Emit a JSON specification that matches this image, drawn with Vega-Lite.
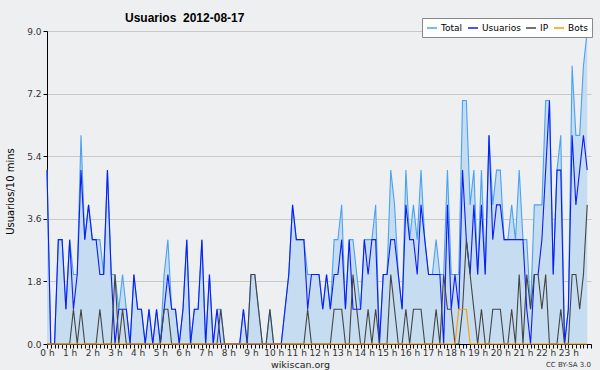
{
  "$schema": "https://vega.github.io/schema/vega-lite/v6.json",
  "autosize": {"type": "none"},
  "width": 544,
  "height": 313,
  "padding": {"left": 47, "top": 31, "right": 9, "bottom": 26},
  "background": "#eeeff1",
  "view": {"stroke": null, "fill": "#eeeff1"},
  "title": {"text": "Usuarios\u00a0 2012-08-17", "anchor": "start", "dx": 120, "dy": 13, "font": "Liberation Sans", "fontSize": 12, "fontWeight": "bold", "color": "#000000", "offset": 6},
  "datasets": {
    "serie": [
    {"m":0,"Total":5,"Usuarios":5,"IP":0,"Bots":0},{"m":10,"Total":0,"Usuarios":0,"IP":0,"Bots":0},{"m":20,"Total":0,"Usuarios":0,"IP":0,"Bots":0},{"m":30,"Total":3,"Usuarios":3,"IP":0,"Bots":0},{"m":40,"Total":3,"Usuarios":3,"IP":0,"Bots":0},{"m":50,"Total":1,"Usuarios":1,"IP":0,"Bots":0},
    {"m":60,"Total":3,"Usuarios":3,"IP":0,"Bots":0},{"m":70,"Total":2,"Usuarios":1,"IP":1,"Bots":0},{"m":80,"Total":2,"Usuarios":2,"IP":0,"Bots":0},{"m":90,"Total":6,"Usuarios":5,"IP":1,"Bots":0},{"m":100,"Total":3,"Usuarios":3,"IP":0,"Bots":0},{"m":110,"Total":4,"Usuarios":4,"IP":0,"Bots":0},
    {"m":120,"Total":3,"Usuarios":3,"IP":0,"Bots":0},{"m":130,"Total":3,"Usuarios":3,"IP":0,"Bots":0},{"m":140,"Total":3,"Usuarios":2,"IP":1,"Bots":0},{"m":150,"Total":2,"Usuarios":2,"IP":0,"Bots":0},{"m":160,"Total":5,"Usuarios":5,"IP":0,"Bots":0},{"m":170,"Total":2,"Usuarios":2,"IP":0,"Bots":0},
    {"m":180,"Total":2,"Usuarios":0,"IP":2,"Bots":0},{"m":190,"Total":1,"Usuarios":1,"IP":0,"Bots":0},{"m":200,"Total":2,"Usuarios":1,"IP":1,"Bots":0},{"m":210,"Total":1,"Usuarios":1,"IP":0,"Bots":0},{"m":220,"Total":0,"Usuarios":0,"IP":0,"Bots":0},{"m":230,"Total":2,"Usuarios":2,"IP":0,"Bots":0},
    {"m":240,"Total":1,"Usuarios":1,"IP":0,"Bots":0},{"m":250,"Total":1,"Usuarios":1,"IP":0,"Bots":0},{"m":260,"Total":0,"Usuarios":0,"IP":0,"Bots":0},{"m":270,"Total":1,"Usuarios":1,"IP":0,"Bots":0},{"m":280,"Total":0,"Usuarios":0,"IP":0,"Bots":0},{"m":290,"Total":1,"Usuarios":1,"IP":0,"Bots":0},
    {"m":300,"Total":0,"Usuarios":0,"IP":0,"Bots":0},{"m":310,"Total":2,"Usuarios":1,"IP":1,"Bots":0},{"m":320,"Total":3,"Usuarios":2,"IP":1,"Bots":0},{"m":330,"Total":1,"Usuarios":1,"IP":0,"Bots":0},{"m":340,"Total":1,"Usuarios":1,"IP":0,"Bots":0},{"m":350,"Total":0,"Usuarios":0,"IP":0,"Bots":0},
    {"m":360,"Total":1,"Usuarios":1,"IP":0,"Bots":0},{"m":370,"Total":3,"Usuarios":3,"IP":0,"Bots":0},{"m":380,"Total":0,"Usuarios":0,"IP":0,"Bots":0},{"m":390,"Total":1,"Usuarios":1,"IP":0,"Bots":0},{"m":400,"Total":1,"Usuarios":1,"IP":0,"Bots":0},{"m":410,"Total":3,"Usuarios":3,"IP":0,"Bots":0},
    {"m":420,"Total":0,"Usuarios":0,"IP":0,"Bots":0},{"m":430,"Total":2,"Usuarios":2,"IP":0,"Bots":0},{"m":440,"Total":0,"Usuarios":0,"IP":0,"Bots":0},{"m":450,"Total":1,"Usuarios":1,"IP":0,"Bots":0},{"m":460,"Total":1,"Usuarios":0,"IP":1,"Bots":0},{"m":470,"Total":0,"Usuarios":0,"IP":0,"Bots":0},
    {"m":480,"Total":0,"Usuarios":0,"IP":0,"Bots":0},{"m":490,"Total":0,"Usuarios":0,"IP":0,"Bots":0},{"m":500,"Total":0,"Usuarios":0,"IP":0,"Bots":0},{"m":510,"Total":0,"Usuarios":0,"IP":0,"Bots":0},{"m":520,"Total":1,"Usuarios":1,"IP":0,"Bots":0},{"m":530,"Total":0,"Usuarios":0,"IP":0,"Bots":0},
    {"m":540,"Total":2,"Usuarios":0,"IP":2,"Bots":0},{"m":550,"Total":2,"Usuarios":0,"IP":2,"Bots":0},{"m":560,"Total":1,"Usuarios":0,"IP":1,"Bots":0},{"m":570,"Total":0,"Usuarios":0,"IP":0,"Bots":0},{"m":580,"Total":0,"Usuarios":0,"IP":0,"Bots":0},{"m":590,"Total":1,"Usuarios":0,"IP":1,"Bots":0},
    {"m":600,"Total":0,"Usuarios":0,"IP":0,"Bots":0},{"m":610,"Total":0,"Usuarios":0,"IP":0,"Bots":0},{"m":620,"Total":0,"Usuarios":0,"IP":0,"Bots":0},{"m":630,"Total":1,"Usuarios":1,"IP":0,"Bots":0},{"m":640,"Total":2,"Usuarios":2,"IP":0,"Bots":0},{"m":650,"Total":4,"Usuarios":4,"IP":0,"Bots":0},
    {"m":660,"Total":3,"Usuarios":3,"IP":0,"Bots":0},{"m":670,"Total":3,"Usuarios":3,"IP":0,"Bots":0},{"m":680,"Total":3,"Usuarios":3,"IP":0,"Bots":0},{"m":690,"Total":2,"Usuarios":1,"IP":1,"Bots":0},{"m":700,"Total":2,"Usuarios":2,"IP":0,"Bots":0},{"m":710,"Total":2,"Usuarios":2,"IP":0,"Bots":0},
    {"m":720,"Total":2,"Usuarios":2,"IP":0,"Bots":0},{"m":730,"Total":1,"Usuarios":1,"IP":0,"Bots":0},{"m":740,"Total":2,"Usuarios":2,"IP":0,"Bots":0},{"m":750,"Total":1,"Usuarios":1,"IP":0,"Bots":0},{"m":760,"Total":3,"Usuarios":2,"IP":1,"Bots":0},{"m":770,"Total":3,"Usuarios":2,"IP":1,"Bots":0},
    {"m":780,"Total":4,"Usuarios":3,"IP":1,"Bots":0},{"m":790,"Total":1,"Usuarios":1,"IP":0,"Bots":0},{"m":800,"Total":3,"Usuarios":3,"IP":0,"Bots":0},{"m":810,"Total":3,"Usuarios":1,"IP":2,"Bots":0},{"m":820,"Total":2,"Usuarios":1,"IP":1,"Bots":0},{"m":830,"Total":1,"Usuarios":1,"IP":0,"Bots":0},
    {"m":840,"Total":3,"Usuarios":3,"IP":0,"Bots":0},{"m":850,"Total":3,"Usuarios":2,"IP":1,"Bots":0},{"m":860,"Total":3,"Usuarios":3,"IP":0,"Bots":0},{"m":870,"Total":4,"Usuarios":3,"IP":1,"Bots":0},{"m":880,"Total":0,"Usuarios":0,"IP":0,"Bots":0},{"m":890,"Total":2,"Usuarios":2,"IP":0,"Bots":0},
    {"m":900,"Total":2,"Usuarios":2,"IP":0,"Bots":0},{"m":910,"Total":5,"Usuarios":3,"IP":2,"Bots":0},{"m":920,"Total":4,"Usuarios":3,"IP":1,"Bots":0},{"m":930,"Total":2,"Usuarios":2,"IP":0,"Bots":0},{"m":940,"Total":1,"Usuarios":1,"IP":0,"Bots":0},{"m":950,"Total":5,"Usuarios":4,"IP":1,"Bots":0},
    {"m":960,"Total":3,"Usuarios":3,"IP":0,"Bots":0},{"m":970,"Total":4,"Usuarios":3,"IP":1,"Bots":0},{"m":980,"Total":3,"Usuarios":2,"IP":1,"Bots":0},{"m":990,"Total":5,"Usuarios":4,"IP":1,"Bots":0},{"m":1000,"Total":3,"Usuarios":3,"IP":0,"Bots":0},{"m":1010,"Total":2,"Usuarios":2,"IP":0,"Bots":0},
    {"m":1020,"Total":2,"Usuarios":2,"IP":0,"Bots":0},{"m":1030,"Total":3,"Usuarios":2,"IP":1,"Bots":0},{"m":1040,"Total":2,"Usuarios":2,"IP":0,"Bots":0},{"m":1050,"Total":2,"Usuarios":0,"IP":2,"Bots":0},{"m":1060,"Total":5,"Usuarios":4,"IP":1,"Bots":0},{"m":1070,"Total":2,"Usuarios":1,"IP":1,"Bots":0},
    {"m":1080,"Total":2,"Usuarios":2,"IP":0,"Bots":0},{"m":1090,"Total":2,"Usuarios":1,"IP":0,"Bots":1},{"m":1100,"Total":7,"Usuarios":5,"IP":1,"Bots":1},{"m":1110,"Total":7,"Usuarios":3,"IP":3,"Bots":1},{"m":1120,"Total":4,"Usuarios":2,"IP":2,"Bots":0},{"m":1130,"Total":5,"Usuarios":4,"IP":1,"Bots":0},
    {"m":1140,"Total":2,"Usuarios":2,"IP":0,"Bots":0},{"m":1150,"Total":5,"Usuarios":4,"IP":1,"Bots":0},{"m":1160,"Total":2,"Usuarios":2,"IP":0,"Bots":0},{"m":1170,"Total":6,"Usuarios":6,"IP":0,"Bots":0},{"m":1180,"Total":4,"Usuarios":3,"IP":1,"Bots":0},{"m":1190,"Total":5,"Usuarios":4,"IP":1,"Bots":0},
    {"m":1200,"Total":5,"Usuarios":4,"IP":1,"Bots":0},{"m":1210,"Total":3,"Usuarios":3,"IP":0,"Bots":0},{"m":1220,"Total":3,"Usuarios":3,"IP":0,"Bots":0},{"m":1230,"Total":4,"Usuarios":3,"IP":1,"Bots":0},{"m":1240,"Total":3,"Usuarios":3,"IP":0,"Bots":0},{"m":1250,"Total":5,"Usuarios":3,"IP":2,"Bots":0},
    {"m":1260,"Total":3,"Usuarios":3,"IP":0,"Bots":0},{"m":1270,"Total":3,"Usuarios":1,"IP":2,"Bots":0},{"m":1280,"Total":1,"Usuarios":0,"IP":1,"Bots":0},{"m":1290,"Total":4,"Usuarios":2,"IP":2,"Bots":0},{"m":1300,"Total":4,"Usuarios":2,"IP":2,"Bots":0},{"m":1310,"Total":4,"Usuarios":3,"IP":1,"Bots":0},
    {"m":1320,"Total":7,"Usuarios":5,"IP":2,"Bots":0},{"m":1330,"Total":7,"Usuarios":7,"IP":0,"Bots":0},{"m":1340,"Total":2,"Usuarios":2,"IP":0,"Bots":0},{"m":1350,"Total":5,"Usuarios":5,"IP":0,"Bots":0},{"m":1360,"Total":6,"Usuarios":5,"IP":1,"Bots":0},{"m":1370,"Total":0,"Usuarios":0,"IP":0,"Bots":0},
    {"m":1380,"Total":1,"Usuarios":1,"IP":0,"Bots":0},{"m":1390,"Total":8,"Usuarios":6,"IP":2,"Bots":0},{"m":1400,"Total":6,"Usuarios":4,"IP":2,"Bots":0},{"m":1410,"Total":6,"Usuarios":5,"IP":1,"Bots":0},{"m":1420,"Total":8,"Usuarios":6,"IP":2,"Bots":0},{"m":1430,"Total":9,"Usuarios":5,"IP":4,"Bots":0}
    ],
    "licencia": [{"m": 1440, "v": 0, "lic": "CC BY-SA 3.0"}]
  },
  "layer": [
    {
      "data": {"name": "serie"},
      "transform": [{"fold": ["Total", "Usuarios", "IP", "Bots"], "as": ["serie", "v"]}],
      "encoding": {
        "x": {"field": "m", "type": "quantitative",
          "scale": {"domain": [0, 1440], "nice": false, "zero": false},
          "axis": {"title": "wikiscan.org", "titleFont": "DejaVu Sans", "titleFontSize": 9.5, "titleFontWeight": "normal", "titleColor": "#222222", "titleX": 253, "titleY": 20, "titleBaseline": "middle", "titleAnchor": null,
            "tickCount": 144, "labelExpr": "datum.value % 60 == 0 && datum.value < 1440 ? (datum.value / 60) + ' h' : ''",
            "labelOverlap": false, "labelFlush": false, "labelBound": false, "labelFont": "DejaVu Sans", "labelFontSize": 9, "labelColor": "#333333", "labelPadding": 0,
            "grid": false, "domainColor": "#000000", "tickColor": "#000000", "tickSize": 4}},
        "y": {"field": "v", "type": "quantitative",
          "scale": {"domain": [0, 9], "nice": false},
          "axis": {"title": "Usuarios/10 mins", "titleFont": "DejaVu Sans", "titleFontSize": 10, "titleFontWeight": "normal", "titleColor": "#000000", "titleX": -37, "titleY": 160, "titleAlign": "center", "titleBaseline": "middle", "titleAnchor": null,
            "values": [0, 0.45, 0.9, 1.35, 1.8, 2.25, 2.7, 3.15, 3.6, 4.05, 4.5, 4.95, 5.4, 5.85, 6.3, 6.75, 7.2, 7.65, 8.1, 8.55, 9],
            "labelExpr": "round(datum.value * 100) % 180 == 0 ? format(datum.value, '.1f') : ''",
            "labelFont": "DejaVu Sans", "labelFontSize": 9, "labelColor": "#333333", "labelPadding": 2, "labelOverlap": false,
            "grid": true, "gridColor": "#c8c8c8", "gridOpacity": {"condition": {"test": "round(datum.value * 100) % 180 == 0 && datum.value > 0", "value": 1}, "value": 0},
            "domainColor": "#000000", "tickColor": "#000000", "tickSize": 4}}
      },
      "layer": [
        {
          "transform": [{"filter": "datum.serie == 'Total'"}],
          "mark": {"type": "area", "color": "#c6dcf0", "opacity": 1}
        },
        {
          "mark": {"type": "line", "strokeWidth": 1.1},
          "encoding": {
            "color": {"field": "serie", "type": "nominal",
              "scale": {"domain": ["Total", "Usuarios", "IP", "Bots"], "range": ["#4aa2f2", "#0d1df5", "#444444", "#ff9a00"]},
              "legend": {"title": null, "orient": "none", "legendX": 375, "legendY": -13, "direction": "horizontal", "columns": 4,
                "symbolType": "stroke", "symbolSize": 100, "symbolStrokeWidth": 1.5, "labelFont": "DejaVu Sans", "labelFontSize": 9, "labelColor": "#000000",
                "labelOffset": 3, "columnPadding": 2, "fillColor": "#ffffff", "strokeColor": "#888888", "padding": 4}}
          }
        }
      ]
    },
    {
      "data": {"name": "licencia"},
      "mark": {"type": "text", "align": "right", "baseline": "middle", "font": "DejaVu Sans", "fontSize": 7, "fill": "#333333", "dy": 21, "clip": false},
      "encoding": {
        "x": {"field": "m", "type": "quantitative"},
        "y": {"field": "v", "type": "quantitative"},
        "text": {"field": "lic"}
      }
    }
  ]
}
